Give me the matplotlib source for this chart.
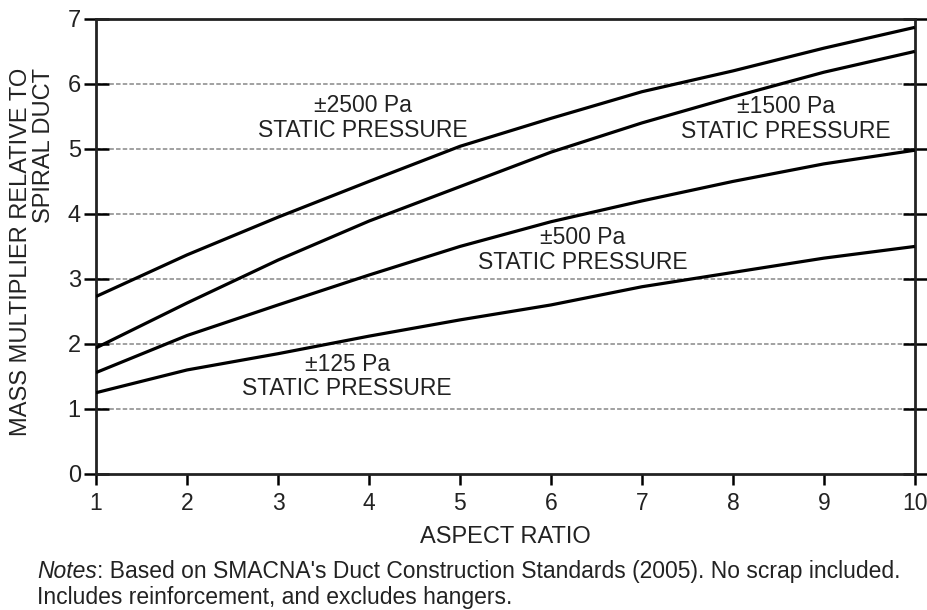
import matplotlib
matplotlib.use("Agg")
import matplotlib.pyplot as plt

plt.rcParams['font.family'] = ['Liberation Sans', 'DejaVu Sans']

# aspect ratio vs mass multiplier, one curve per static pressure class
aspect_ratio = [1, 2, 3, 4, 5, 6, 7, 8, 9, 10]
pa_2500 = [2.73, 3.37, 3.95, 4.50, 5.04, 5.47, 5.88, 6.20, 6.55, 6.87]
pa_1500 = [1.94, 2.63, 3.29, 3.89, 4.42, 4.95, 5.40, 5.80, 6.18, 6.50]
pa_500 = [1.56, 2.13, 2.60, 3.06, 3.50, 3.88, 4.20, 4.50, 4.77, 4.98]
pa_125 = [1.25, 1.60, 1.85, 2.12, 2.37, 2.60, 2.88, 3.10, 3.32, 3.50]

curve_labels = ["\u00b12500 Pa\nSTATIC PRESSURE", "\u00b11500 Pa\nSTATIC PRESSURE",
                "\u00b1500 Pa\nSTATIC PRESSURE", "\u00b1125 Pa\nSTATIC PRESSURE"]
label_xy = [(3.93, 5.48), (8.58, 5.46), (6.35, 3.45), (3.76, 1.50)]

xticks = list(range(1, 11))
yticks = list(range(0, 8))

fig = plt.figure(figsize=(9.27, 6.10), dpi=100)
ax = fig.add_axes([0.1036, 0.223, 0.8833, 0.746])

for ys in [pa_2500, pa_1500, pa_500, pa_125]:
    ax.plot(aspect_ratio, ys, color='black', lw=2.3, solid_capstyle='butt', zorder=3)

for txt, (tx, ty) in zip(curve_labels, label_xy):
    ax.text(tx, ty, txt, ha='center', va='center', multialignment='center',
            fontsize=16.5, color='#222222', linespacing=1.1)

ax.set_xlim(1, 10)
ax.set_ylim(0, 7)
ax.set_xticks(xticks)
ax.set_yticks(yticks)
ax.tick_params(axis='x', direction='out', length=8, width=1.8, labelsize=16.5,
               labelcolor='#222222', pad=5)
ax.tick_params(axis='y', direction='inout', length=18, width=1.8, labelsize=17,
               labelcolor='#222222', pad=2, right=True)

# dotted reference lines at each whole multiplier
for yv in yticks[1:-1]:
    ax.axhline(yv, color='#9a9a9a', lw=1.3, ls=(0, (2.5, 1.2)), zorder=1)

for s in ax.spines.values():
    s.set_linewidth(2.0)
    s.set_color('#222222')

ax.set_xlabel("ASPECT RATIO", fontsize=17, color='#222222', labelpad=8)
fig.text(0.035, 1 - 68 / 610, "MASS MULTIPLIER RELATIVE TO\nSPIRAL DUCT",
         rotation=90, ha='center', va='top', multialignment='right',
         fontsize=17, color='#222222', linespacing=1.08)

# notes under the chart, first word in italics
fig.canvas.draw()
r = fig.canvas.get_renderer()
t_notes = fig.text(0.04, 0.052, "Notes", fontsize=16.5, style='italic',
                   color='#222222', va='baseline')
w = t_notes.get_window_extent(renderer=r).width / fig.bbox.width
fig.text(0.04 + w, 0.052, ": Based on SMACNA's Duct Construction Standards (2005). "
         "No scrap included.", fontsize=16.5, color='#222222', va='baseline')
fig.text(0.04, 0.010, "Includes reinforcement, and excludes hangers.", fontsize=16.5,
         color='#222222', va='baseline')

fig.savefig("out.png", dpi=100)
